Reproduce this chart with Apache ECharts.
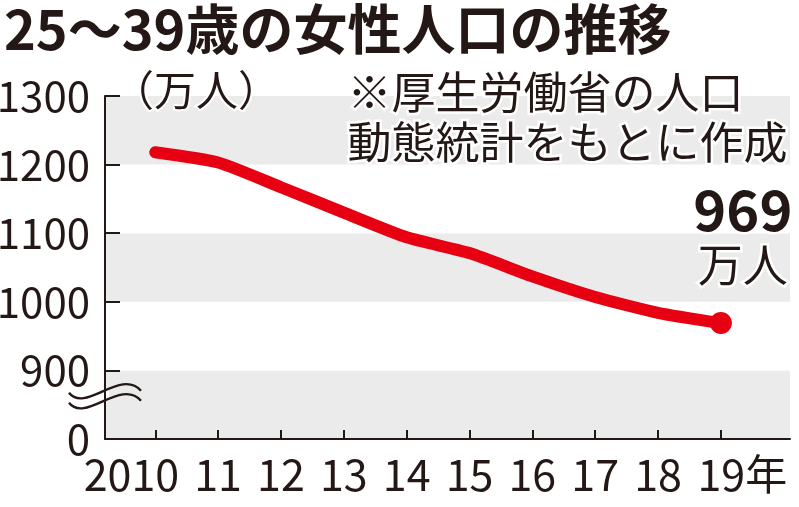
<!DOCTYPE html>
<html>
<head>
<meta charset="utf-8">
<script src="https://cdn.jsdelivr.net/npm/echarts@6/dist/echarts.min.js"></script>
<style>
  html, body { margin: 0; padding: 0; background: #fff; }
  #main { width: 799px; height: 507px; }
</style>
</head>
<body>
<div id="main"></div>
<script>
// データ（万人）
const years = [2010, 2011, 2012, 2013, 2014, 2015, 2016, 2017, 2018, 2019];
const population = [1218, 1203, 1167, 1130, 1094, 1071, 1037, 1007, 984, 969];
const yTicks = [800, 900, 1000, 1100, 1200, 1300]; // 800 は省略表示で「0」
const xMin = 2009.2, xMax = 2020.1; // 横軸の両端（余白）

const NUM_FONT = '"Noto Sans CJK JP", sans-serif';
const JP_FONT = '"Noto Sans CJK JP", sans-serif';
const INK = '#231815';
const RED = '#e60012';

let chart = echarts.init(document.getElementById('main'), null, { renderer: 'canvas' });

const lastIdx = years.length - 1;
const seriesData = years.map((y, i) => {
  let item = { value: [y, population[i]] };
  if (i == lastIdx) {
    item.symbol = 'circle';
    item.symbolSize = 22;
    item.label = {
      show: true,
      position: 'top',
      distance: 22,
      offset: [22, 0],
      formatter: '{v|' + population[i] + '}\n{u|万人}',
      rich: {
        v: { fontFamily: JP_FONT, fontWeight: 'bold', fontSize: 56, lineHeight: 60, color: INK },
        u: { fontFamily: JP_FONT, fontSize: 45, lineHeight: 50, color: INK }
      },
      textBorderColor: '#fff',
      textBorderWidth: 5
    };
  }
  return item;
});

// 両端のダミー目盛りは showMin/MaxLabel:false で消す
const xMarks = [xMin].concat(years, [xMax]);

const option = {
  animation: false,
  grid: { left: 105, right: 9, top: 96, bottom: 68, containLabel: false, outerBoundsMode: 'none' },
  xAxis: {
    type: 'value',
    min: xMin,
    max: xMax,
    splitLine: { show: false },
    axisLine: { show: true, lineStyle: { color: INK, width: 2 } },
    axisTick: { show: true, inside: true, length: 9, customValues: xMarks, lineStyle: { color: INK, width: 2 } },
    axisLabel: {
      customValues: xMarks,
      showMinLabel: false,
      showMaxLabel: false,
      margin: 14,
      fontFamily: NUM_FONT,
      fontSize: 43,
      color: INK,
      formatter: function (v) {
        if (years.indexOf(v) < 0) return '';
        if (v == 2010) return '2010{h|20}';
        if (v == 2019) return '{h|年}19{n|年}';
        return String(v).slice(2);
      },
      rich: {
        h: { fontFamily: NUM_FONT, fontSize: 43, color: 'rgba(0,0,0,0)' },
        n: { fontFamily: JP_FONT, fontSize: 42, color: INK }
      }
    }
  },
  yAxis: {
    type: 'value',
    min: 800,
    max: 1300,
    interval: 100,
    splitLine: { show: false },
    splitArea: { show: true, areaStyle: { color: ['#ebebeb', '#ffffff'] } },
    axisLine: { show: true, lineStyle: { color: INK, width: 2 } },
    axisTick: { show: true, inside: true, length: 15, lineStyle: { color: INK, width: 2 } },
    axisLabel: {
      margin: 15,
      fontFamily: NUM_FONT,
      fontSize: 42,
      color: INK,
      padding: [0, 0, 12, 0],
      formatter: function (v) { return v == yTicks[0] ? '0' : String(v); }
    }
  },
  series: [{
    type: 'line',
    data: seriesData,
    smooth: 0.2,
    symbol: 'none',
    showSymbol: true,
    lineStyle: { color: RED, width: 12, cap: 'round', join: 'round' },
    itemStyle: { color: RED },
    z: 5
  }]
};

chart.setOption(option);

// 軸の省略記号（波線）
let p = chart.convertToPixel({ gridIndex: 0 }, [xMin, 866]);
let wave = function (dy) {
  return {
    type: 'bezierCurve',
    shape: { x1: -36, y1: -1 + dy, cpx1: -20, cpy1: 20 + dy, cpx2: 16, cpy2: -26 + dy, x2: 36, y2: -3 + dy },
    style: { fill: 'none', stroke: INK, lineWidth: 2.4 }
  };
};
chart.setOption({
  graphic: [
    {
      id: 'title', type: 'text', left: 4, top: 2,
      style: { text: '25～39歳の女性人口の推移', fontFamily: JP_FONT, fontWeight: 'bold', fontSize: 54, fill: INK }
    },
    {
      id: 'unit', type: 'text', left: 110, top: 67,
      style: { text: '（万人）', fontFamily: JP_FONT, fontSize: 42, fill: INK, stroke: '#fff', lineWidth: 4 }
    },
    {
      id: 'note', type: 'text', right: 9, top: 67,
      style: {
        text: '※厚生労働省の人口\n動態統計をもとに作成',
        fontFamily: JP_FONT, fontSize: 44, lineHeight: 50, fill: INK,
        stroke: '#fff', lineWidth: 5
      }
    },
    {
      id: 'break', type: 'group', x: p[0], y: p[1], z: 20,
      children: [
        {
          type: 'polygon',
          shape: { points: [[-4, -3], [4, -6], [4, 6], [-4, 9]] },
          style: { fill: '#ffffff' }
        },
        wave(0),
        wave(10)
      ]
    }
  ]
});
</script>
</body>
</html>
